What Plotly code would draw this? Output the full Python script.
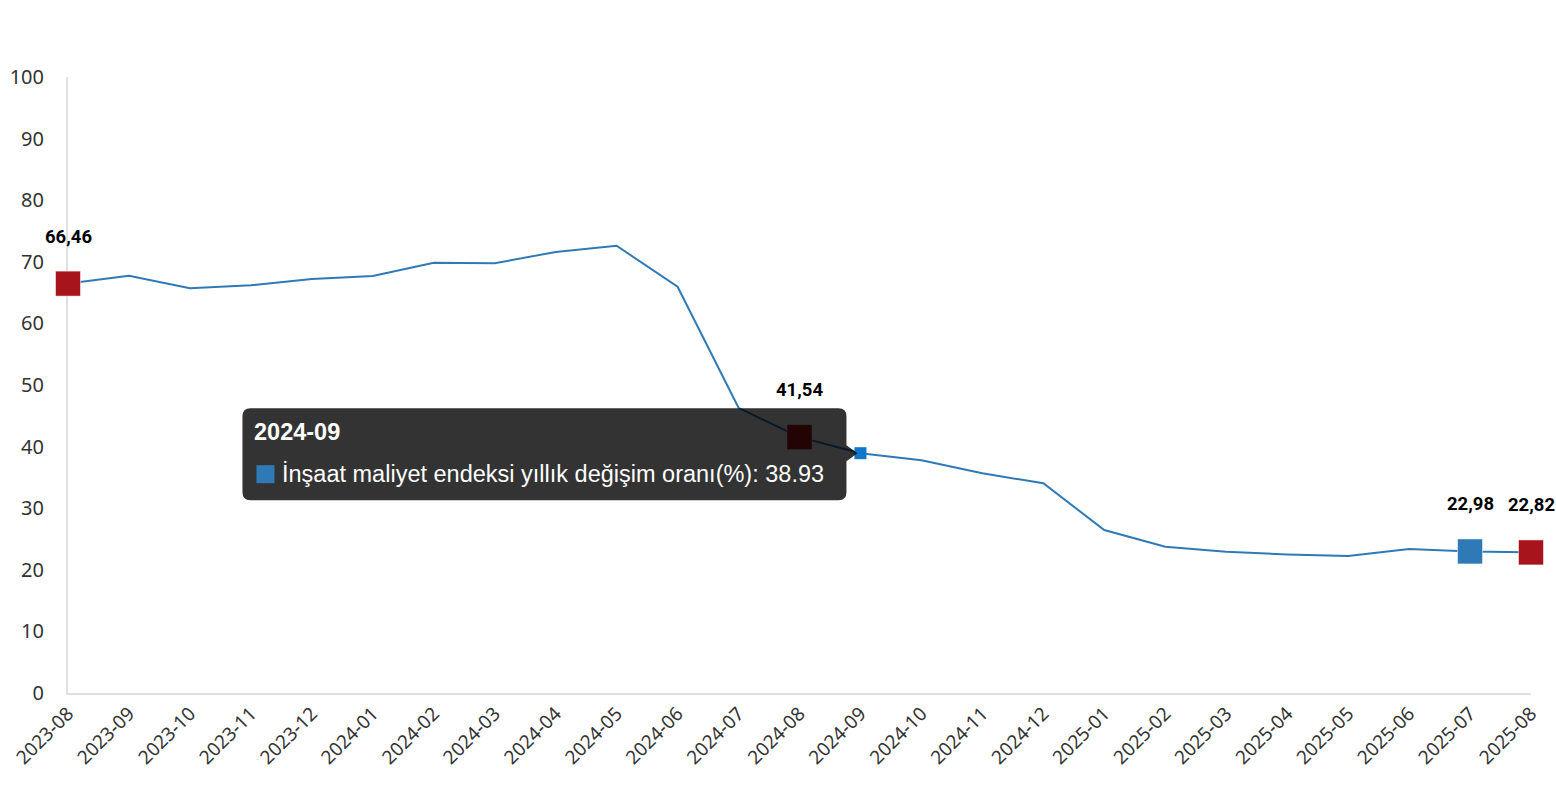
import plotly.graph_objects as go

months = ["2023-08", "2023-09", "2023-10", "2023-11", "2023-12", "2024-01", "2024-02",
          "2024-03", "2024-04", "2024-05", "2024-06", "2024-07", "2024-08", "2024-09",
          "2024-10", "2024-11", "2024-12", "2025-01", "2025-02", "2025-03", "2025-04",
          "2025-05", "2025-06", "2025-07", "2025-08"]
values = [66.46, 67.74, 65.70, 66.20, 67.20, 67.70, 69.86, 69.75, 71.60, 72.60, 65.96,
          46.30, 41.54, 38.93, 37.80, 35.66, 34.04, 26.46, 23.75, 22.94, 22.50, 22.24,
          23.38, 22.98, 22.82]
red_months = ["2023-08", "2024-08", "2025-08"]
blue_months = ["2025-07"]
hover_month = "2024-09"
series_name = "İnşaat maliyet endeksi yıllık değişim oranı(%)"
y_ticks = [0, 10, 20, 30, 40, 50, 60, 70, 80, 90, 100]

LINE = "#2f7ab6"
RED = "#a8141b"
BLUE = "#2f7ab6"
HOVER = "#1177cc"

idx = {m: i for i, m in enumerate(months)}

fig = go.Figure()
fig.add_trace(go.Scatter(x=months, y=values, mode="lines", cliponaxis=False,
                         line=dict(color=LINE, width=2), hoverinfo="skip", showlegend=False))
fig.add_trace(go.Scatter(x=red_months, y=[values[idx[m]] for m in red_months], mode="markers",
                         cliponaxis=False,
                         marker=dict(symbol="square", size=25, color=RED,
                                     line=dict(color="rgba(255,255,255,0.5)", width=1)),
                         showlegend=False))
fig.add_trace(go.Scatter(x=blue_months, y=[values[idx[m]] for m in blue_months], mode="markers",
                         cliponaxis=False,
                         marker=dict(symbol="square", size=25, color=BLUE,
                                     line=dict(color="rgba(255,255,255,0.5)", width=1)),
                         showlegend=False))

# data labels
for m in red_months + blue_months:
    v = values[idx[m]]
    fig.add_annotation(x=m, y=v, text=f"<b>{v:.2f}</b>".replace(".", ","), showarrow=False,
                       yshift=47, font=dict(family="Roboto, Liberation Sans", size=18.5, color="#000"))

# tooltip overlay (static rendering of hover label)
hv = values[idx[hover_month]]
box_path = ("M -14,-38 L -14,-39 Q -14,-47 -22,-47 L -610,-47 Q -618,-47 -618,-39 "
            "L -618,37 Q -618,45 -610,45 L -22,45 Q -14,45 -14,37 L -14,8 L -3,0 L -14,-8 Z")
fig.add_shape(type="path", xref="x", yref="y", xsizemode="pixel", ysizemode="pixel",
              xanchor=hover_month, yanchor=hv, path=box_path,
              fillcolor="rgba(0,0,0,0.8)", line=dict(width=0), layer="above")
fig.add_shape(type="rect", xref="x", yref="y", xsizemode="pixel", ysizemode="pixel",
              xanchor=hover_month, yanchor=hv, x0=-604, x1=-586, y0=-12, y1=-30,
              fillcolor=LINE, line=dict(width=0), layer="above")
fig.add_annotation(x=hover_month, y=hv, text=f"<b>{hover_month}</b>", showarrow=False,
                   xanchor="left", yanchor="middle", xshift=-608, yshift=21,
                   font=dict(family="Liberation Sans, Arial", size=23.5, color="#fff"))
fig.add_annotation(x=hover_month, y=hv, text=f"{series_name}: {hv:.2f}", showarrow=False,
                   xanchor="left", yanchor="middle", xshift=-580, yshift=-21,
                   font=dict(family="Liberation Sans, Arial", size=23.5, color="#fff"))

fig.add_trace(go.Scatter(x=[hover_month], y=[hv], mode="markers", cliponaxis=False,
                         marker=dict(symbol="square", size=12, color=HOVER),
                         showlegend=False))

fig.update_layout(
    width=1556, height=800,
    margin=dict(l=68, r=25, t=77, b=107, autoexpand=False),
    plot_bgcolor="white", paper_bgcolor="white",
    font=dict(family="Noto Sans, Open Sans", color="#333"),
    hovermode=False,
)
fig.update_xaxes(type="category", range=[0, len(months) - 1], showgrid=False,
                 showline=True, linecolor="#e0e0e0", linewidth=2, ticks="",
                 tickangle=-45, tickfont=dict(size=19, color="#333"), zeroline=False,
                 automargin=False, layer="below traces")
fig.update_yaxes(range=[0, 100], tickvals=y_ticks, showgrid=False,
                 showline=True, linecolor="#e0e0e0", linewidth=2, ticks="",
                 ticklabelstandoff=18, tickfont=dict(size=20, color="#333"), zeroline=False,
                 automargin=False, layer="below traces")

fig.write_html("out.html", config={"displayModeBar": False},
               post_script="document.body.style.margin='0';document.body.style.overflow='hidden';")
